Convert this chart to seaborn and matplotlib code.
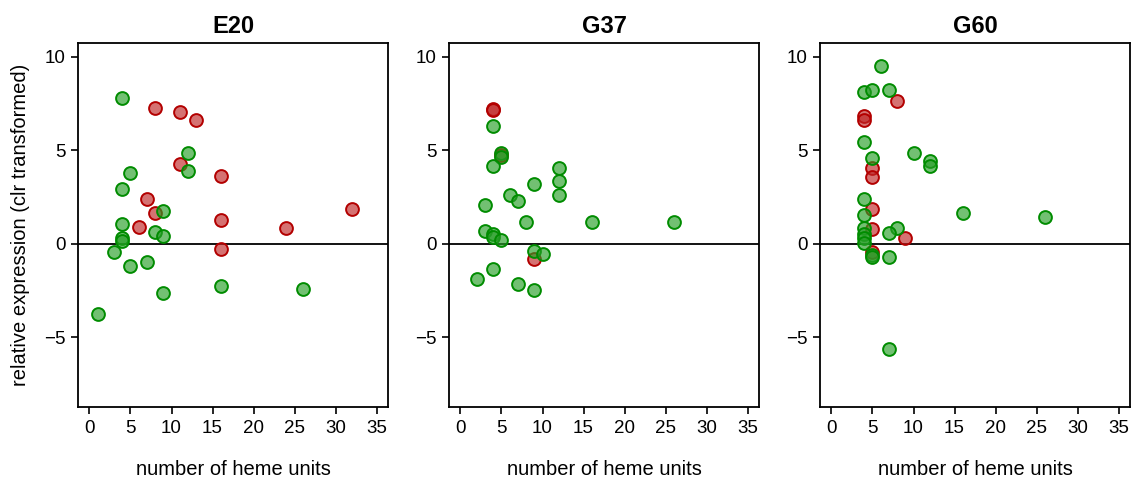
import pandas as pd
import seaborn as sns
import matplotlib.pyplot as plt

# heme units (x) and clr expression (y) per panel, split by group
e20_green_x = [4, 5, 4, 12, 12, 9, 4, 8, 9, 4, 4, 3, 5, 7, 9, 16, 26, 1]
e20_green_y = [7.8, 3.8, 2.95, 4.85, 3.9, 1.75, 1.05, 0.65, 0.43, 0.3, 0.16, -0.43, -1.17, -0.95, -2.65, -2.23, -2.43, -3.73]
e20_red_x = [8, 11, 13, 11, 16, 7, 8, 6, 16, 16, 24, 32]
e20_red_y = [7.28, 7.05, 6.6, 4.29, 3.6, 2.4, 1.66, 0.88, 1.3, -0.25, 0.85, 1.86]

g37_green_x = [4, 5, 5, 4, 12, 12, 12, 9, 6, 7, 3, 8, 16, 26, 3, 4, 4, 5, 9, 10, 4, 2, 7, 9]
g37_green_y = [6.32, 4.85, 4.63, 4.16, 4.04, 3.35, 2.61, 3.19, 2.61, 2.29, 2.07, 1.14, 1.14, 1.17,
               0.68, 0.52, 0.34, 0.2, -0.38, -0.56, -1.33, -1.87, -2.14, -2.49]
g37_red_x = [4, 4, 5, 9]
g37_red_y = [7.22, 7.15, 4.72, -0.79]

g60_green_x = [6, 4, 5, 7, 4, 5, 10, 12, 12, 4, 4, 16, 26, 4, 8, 7, 4, 4, 4, 5, 5, 7, 7]
g60_green_y = [9.5, 8.13, 8.22, 8.22, 5.42, 4.59, 4.88, 4.41, 4.16, 2.4, 1.55, 1.64, 1.42,
               0.85, 0.85, 0.58, 0.52, 0.3, 0.04, -0.6, -0.7, -0.7, -5.62]
g60_red_x = [8, 4, 4, 5, 5, 5, 5, 9, 5]
g60_red_y = [7.62, 6.83, 6.61, 4.07, 3.59, 1.86, 0.81, 0.29, -0.41]

panels = ['E20', 'G37', 'G60']
data = {
    'E20': (e20_green_x, e20_green_y, e20_red_x, e20_red_y),
    'G37': (g37_green_x, g37_green_y, g37_red_x, g37_red_y),
    'G60': (g60_green_x, g60_green_y, g60_red_x, g60_red_y),
}

sns.set_theme(style="white")
plt.rcParams['font.family'] = ['Liberation Sans', 'DejaVu Sans']
plt.rcParams['text.color'] = 'black'
plt.rcParams['axes.labelcolor'] = 'black'
plt.rcParams['xtick.color'] = 'black'
plt.rcParams['ytick.color'] = 'black'

fig = plt.figure(figsize=(11.34, 4.8), dpi=100)
lefts = [78 / 1134, 449 / 1134, 820 / 1134]
styles = {
    'green': ((0.15, 0.62, 0.15, 0.65), (0.0, 0.55, 0.0)),
    'red': ((0.75, 0.15, 0.15, 0.65), (0.7, 0.0, 0.0)),
}

for i, name in enumerate(panels):
    ax = fig.add_axes([lefts[i], 0.152, 0.2734, 0.758])
    gx, gy, rx, ry = data[name]
    df = pd.concat([
        pd.DataFrame({'heme': gx, 'expr': gy, 'group': 'green'}),
        pd.DataFrame({'heme': rx, 'expr': ry, 'group': 'red'}),
    ])
    # red first, green drawn on top
    for grp in ['red', 'green']:
        sub = df[df['group'] == grp]
        face, edge = styles[grp]
        sns.scatterplot(data=sub, x='heme', y='expr', ax=ax, s=85,
                        color=face[:3], edgecolor=edge, linewidth=1.4, zorder=3)
        ax.collections[-1].set_facecolor(face)
    ax.axhline(0, color='black', lw=1.3, zorder=2)
    ax.set_xlim(-1.4, 36.4)
    ax.set_ylim(-8.72, 10.72)
    ax.set_xticks(range(0, 36, 5))
    ax.set_yticks([-5, 0, 5, 10])
    ax.set_yticklabels(['\u22125', '0', '5', '10'])
    ax.tick_params(direction='out', length=5, width=1.2, color='black',
                   labelsize=13.5, left=True, bottom=True, pad=4)
    for sp in ax.spines.values():
        sp.set_color('black')
        sp.set_linewidth(1.3)
    ax.set_title(name, fontsize=17, fontweight='bold', pad=7)
    ax.set_xlabel('number of heme units', fontsize=14.5, labelpad=17)
    if i == 0:
        ax.set_ylabel('relative expression (clr transformed)', fontsize=14.5, labelpad=10)
    else:
        ax.set_ylabel('')

plt.savefig('out.png', dpi=100)
